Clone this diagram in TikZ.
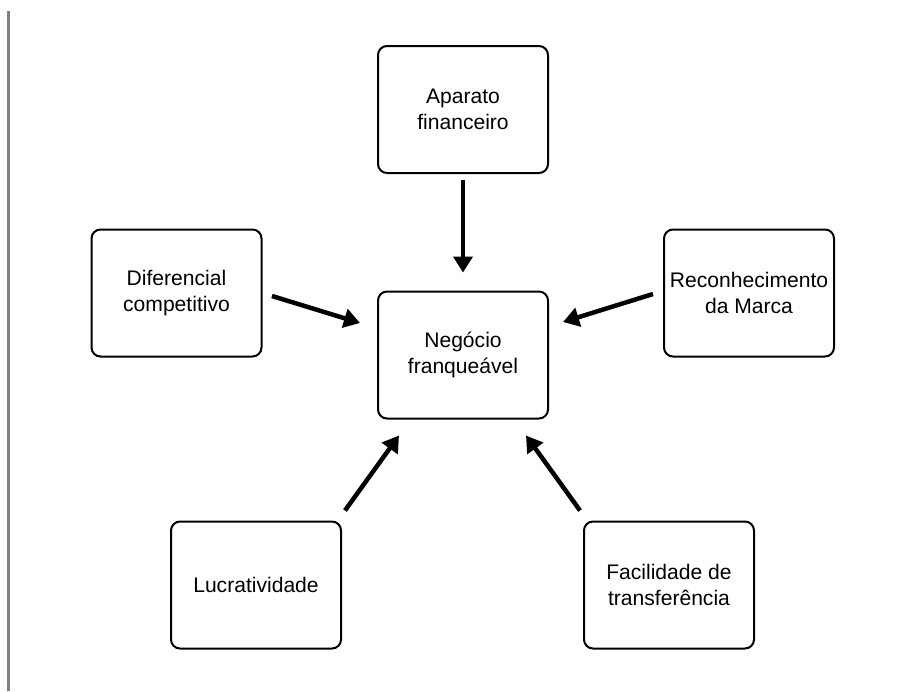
\documentclass[tikz,border=0pt]{standalone}
\usepackage{fontspec}
\setmainfont{Liberation Sans}
\usetikzlibrary{positioning, arrows.meta, calc}

\begin{document}
\begin{tikzpicture}
\tikzset{bloco/.style={draw, rectangle, rounded corners=0.18cm, line width=0.04cm, minimum width=3.40cm, minimum height=2.54cm, align=center, font=\fontsize{12}{15}\selectfont, fill=white},
seta/.style={-{Triangle[length=0.32cm,width=0.38cm]}, line width=0.09cm}}
\useasboundingbox (0,0) rectangle (18.04,-13.82);
\draw[gray, line width=0.05cm] (0.17,-0.22) -- (0.17,-13.82);
\node[bloco] (apa) at (9.26,-2.19) {Aparato\\financeiro};
\node[bloco] (dif) at (3.53,-5.86) {Diferencial\\competitivo};
\node[bloco] (neg) at (9.26,-7.10) {Negócio\\franqueável};
\node[bloco] (rec) at (14.98,-5.86) {Reconhecimento\\da Marca};
\node[bloco] (luc) at (5.12,-11.70) {Lucratividade};
\node[bloco] (fac) at (13.38,-11.70) {Facilidade de\\transferência};
\draw[seta, shorten <=0.11cm, shorten >=0.36cm] (apa) -- (neg);
\draw[seta] ($(dif.east)+(0.19,-0.06)$) -- ($(neg.west)+(-0.34,0.64)$);
\draw[seta] ($(rec.west)+(-0.20,-0.02)$) -- ($(neg.east)+(0.28,0.66)$);
\draw[seta] ($(luc.north east)+(0.06,0.20)$) -- ($(neg.south west)+(0.44,-0.32)$);
\draw[seta] ($(fac.north west)+(-0.06,0.20)$) -- ($(neg.south east)+(-0.46,-0.32)$);
\end{tikzpicture}
\end{document}
